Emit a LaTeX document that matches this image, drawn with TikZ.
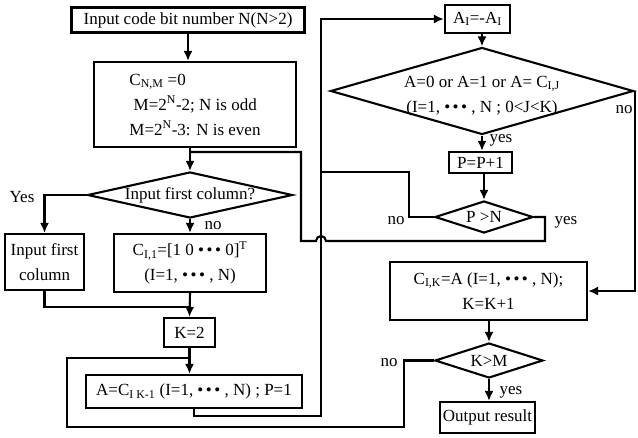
\documentclass[tikz,border=0pt]{standalone}
\usepackage{fontspec}
\setmainfont{Liberation Serif}
\usetikzlibrary{arrows,arrows.meta,shapes}
\newcommand{\tdots}{•\kern2.5pt•\kern2.5pt•}

\begin{document}
\begin{tikzpicture}[x=1pt, y=-1pt, line width=2.1pt, >={Latex[length=10pt,width=9pt]},
	every node/.style={font=\fontsize{17}{25}\selectfont},
	box/.style={draw, rectangle, inner sep=0pt, align=center},
	decide/.style={draw, diamond, inner sep=0pt},
	lbl/.style={inner sep=1pt}]
	\useasboundingbox (0,0) rectangle (638,437);
	% left column
	\node[box, minimum width=233pt, minimum height=25pt] (in) at (188,20) {Input code bit number N(N>2)};
	\node[box, minimum width=202pt, minimum height=85pt, align=left] (init) at (195,104.5)
		{C\textsubscript{N,M} =0\\ \ M=2\textsuperscript{N}-2; N is odd\\ M=2\textsuperscript{N}-3: N is even};
	\node[decide, minimum width=205pt, minimum height=46pt, label=center:{Input first column?}] (d1) at (190,195) {};
	\node[box, minimum width=79pt, minimum height=56pt] (fcol) at (44.5,262) {Input first\\column};
	\node[box, minimum width=152pt, minimum height=58pt] (c1) at (190,263)
		{C\textsubscript{I,1}=[1 0 \tdots{} 0]\textsuperscript{T}\\(I=1, \tdots{} , N)};
	\node[box, minimum width=51pt, minimum height=29pt] (k2) at (189.5,332.5) {K=2};
	\node[box, minimum width=216pt, minimum height=33pt] (aset) at (194,391.5)
		{A=C\textsubscript{I K-1} (I=1, \tdots{} , N) ; P=1};
	% right column
	\node[box, minimum width=65pt, minimum height=28pt] (ai) at (477.5,19) {A\textsubscript{I}=-A\textsubscript{I}};
	\node[decide, minimum width=303pt, minimum height=87pt,
		label={[yshift=-5pt, align=center]center:{A=0 or A=1 or A= C\textsubscript{I,J}\\(I=1, \tdots{} , N ; 0<J<K)}}] (d2) at (482,91) {};
	\node[box, minimum width=63pt, minimum height=21pt] (pp) at (480.5,162.5) {P=P+1};
	\node[decide, minimum width=98pt, minimum height=32pt, label=center:{P >N}] (d3) at (484,217) {};
	\node[box, minimum width=197pt, minimum height=58pt] (ck) at (488.5,291)
		{C\textsubscript{I,K}=A (I=1, \tdots{} , N);\\K=K+1};
	\node[decide, minimum width=108pt, minimum height=35pt, label=center:{K>M}] (d4) at (489,360.5) {};
	\node[box, minimum width=95pt, minimum height=31pt] (out) at (487.5,417.5) {Output result};
	% branch labels
	\node[lbl] (l1) at (22,197) {Yes};
	\node[lbl] (l2) at (213,226) {no};
	\node[lbl] (l3) at (624,110) {no};
	\node[lbl] (l4) at (501,140) {yes};
	\node[lbl] (l5) at (396,221) {no};
	\node[lbl] (l6) at (566,222) {yes};
	\node[lbl] (l7) at (389,363) {no};
	\node[lbl] (l8) at (511,392) {yes};
	% corners of the connectors
	\coordinate (jfc) at (190,307);
	\coordinate (back) at (321,416);
	\coordinate (pno) at (409,172);
	\coordinate (pyes) at (545,241);
	\coordinate (pup) at (301,152);
	\coordinate (kno) at (404,427);
	\coordinate (kup) at (67,358);
	% connectors
	\draw[->] (in.south) -- (in.south |- init.north);
	\draw[->] (d1.north |- init.south) -- (d1.north);
	\draw[->] (d1.west) -| (fcol.north);
	\draw[->] (d1.south) -- (c1.north);
	\draw (fcol.south) |- (jfc);
	\draw[->] (c1.south) -- (k2.north);
	\draw[->] (k2.south) -- (k2.south |- aset.north);
	\draw[->] (aset.south) |- (back) |- (ai.west);
	\draw[->] (d2.north |- ai.south) -- (d2.north);
	\draw[->] (d2.south) -- (d2.south |- pp.north);
	\draw[->] (d2.east) |- (ck.east);
	\draw[->] (d3.north |- pp.south) -- (d3.north);
	\draw (d3.west) -| (pno) -- (pno -| back);
	\draw (d3.east) -| (pyes) -- ([xshift=5pt]back |- pyes) arc[start angle=0, end angle=180, radius=5pt]
		-- (pup |- pyes) -- (pup) -- (d1.north |- pup);
	\draw[->] (ck.south) -- (ck.south -| d4.north) -- (d4.north);
	\draw[->] (d4.south) -- (d4.south |- out.north);
	\draw (d4.west) -| (kno) -| (kup) -- (k2.south |- kup);
\end{tikzpicture}
\end{document}
